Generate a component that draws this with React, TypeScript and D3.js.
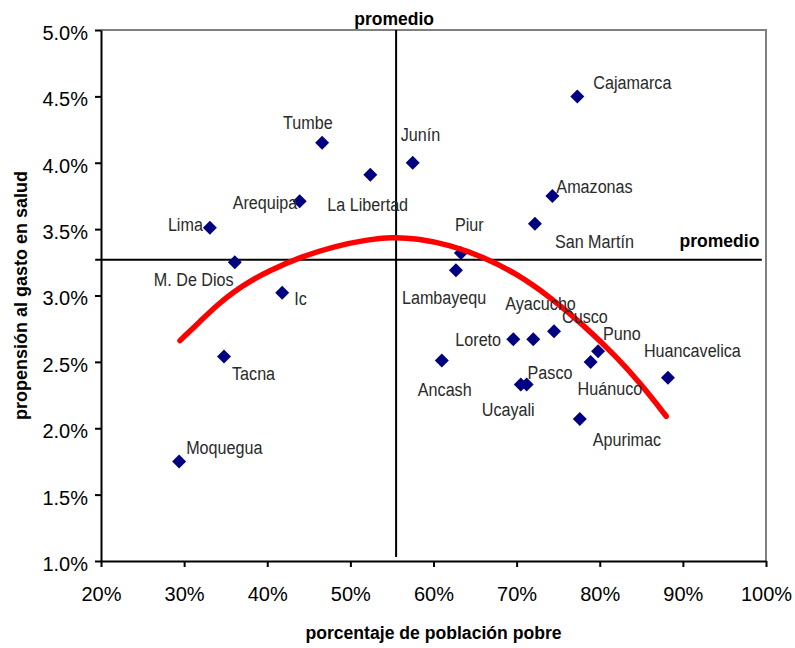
import React, { useRef, useEffect } from 'react';
import * as d3 from 'd3';

// departamentos y sus valores
const departamentos = [
  'Cajamarca', 'Junín', 'Tumbe', 'La Libertad', 'Arequipa', 'Amazonas', 'Lima', 'San Martín',
  'Piur', 'M. De Dios', 'Lambayequ', 'Ic', 'Cusco', 'Ayacucho', 'Loreto', 'Puno', 'Tacna',
  'Ancash', 'Huánuco', 'Huancavelica', 'Pasco', 'Ucayali', 'Apurimac', 'Moquegua',
];
const pobreza = [
  77.3, 57.5, 46.6, 52.4, 43.9, 74.3, 33.1, 72.2,
  63.3, 36.1, 62.7, 41.8, 74.5, 72.0, 69.6, 79.8, 34.8,
  61.0, 78.9, 88.2, 71.2, 70.5, 77.6, 29.4,
];
const gastoSalud = [
  4.5, 4.0, 4.15, 3.91, 3.71, 3.75, 3.51, 3.54,
  3.32, 3.25, 3.19, 3.02, 2.73, 2.67, 2.67, 2.58, 2.54,
  2.51, 2.5, 2.38, 2.33, 2.33, 2.07, 1.75,
];

// curva de tendencia (puntos leídos)
const tendenciaX = [29.5, 32, 34, 36, 38, 40, 44, 48, 52, 55, 58, 62, 66, 70, 74, 78, 82, 85, 88];
const tendenciaY = [2.66, 2.81, 2.93, 3.03, 3.11, 3.18, 3.29, 3.37, 3.42, 3.44, 3.43, 3.38, 3.29, 3.165, 2.99, 2.78, 2.54, 2.33, 2.09];

const promedioPobreza = 55.5;
const promedioGasto = 3.27;

const xTicks = [20, 30, 40, 50, 60, 70, 80, 90, 100];
const yTicks = [1.0, 1.5, 2.0, 2.5, 3.0, 3.5, 4.0, 4.5, 5.0];

// desplazamiento de etiquetas (px) respecto al marcador
const labelOffset: Record<string, [number, number]> = {
  Cajamarca: [16, -7],
  'Junín': [-12, -22],
  Tumbe: [-39, -14],
  'La Libertad': [-43, 36],
  Arequipa: [-67, 8],
  Amazonas: [4, -3],
  Lima: [-42, 3],
  'San Martín': [20, 24],
  Piur: [-6, -22],
  'M. De Dios': [-81, 24],
  Lambayequ: [-54, 34],
  Ic: [12, 12],
  Cusco: [8, -8],
  Ayacucho: [-28, -29],
  Loreto: [-58, 7],
  Puno: [5, -11],
  Tacna: [8, 23],
  Ancash: [-24, 35],
  'Huánuco': [-13, 33],
  Huancavelica: [-24, -21],
  Pasco: [1, -5],
  Ucayali: [-39, 32],
  Apurimac: [13, 27],
  Moquegua: [7, -7],
};

const W = 795;
const H = 648;
const FONT = "'Liberation Sans', Arial, sans-serif";

const App: React.FC = () => {
  const svgRef = useRef<SVGSVGElement | null>(null);

  useEffect(() => {
    const margin = { top: 30, right: 29, bottom: 87, left: 101 };
    const width = W - margin.left - margin.right;
    const height = H - margin.top - margin.bottom;

    d3.select(svgRef.current).selectAll('*').remove();

    const svg = d3
      .select(svgRef.current)
      .append('g')
      .attr('transform', `translate(${margin.left},${margin.top})`);

    const x = d3.scaleLinear().domain([20, 100]).range([0, width]);
    const y = d3.scaleLinear().domain([1, 5]).range([height, 0]);

    // borde gris superior y derecho
    svg
      .append('path')
      .attr('d', `M0,0H${width}V${height}`)
      .attr('fill', 'none')
      .attr('stroke', '#808080')
      .attr('stroke-width', 2);

    const yAxis = svg
      .append('g')
      .call(
        d3
          .axisLeft(y)
          .tickValues(yTicks)
          .tickFormat((d) => `${(+d).toFixed(1)}%`)
          .tickSize(6)
          .tickSizeOuter(0)
          .tickPadding(7)
      );

    const xAxis = svg
      .append('g')
      .attr('transform', `translate(0,${height})`)
      .call(
        d3
          .axisBottom(x)
          .tickValues(xTicks)
          .tickFormat((d) => `${d}%`)
          .tickSize(6)
          .tickSizeOuter(0)
          .tickPadding(20)
      );

    [yAxis, xAxis].forEach((ax) => {
      ax.select('.domain').attr('stroke', '#000').attr('stroke-width', 2);
      ax.selectAll('.tick line').attr('stroke', '#000').attr('stroke-width', 2);
      ax.selectAll('.tick text')
        .attr('fill', '#000')
        .style('font-family', FONT)
        .style('font-size', '20px');
    });
    yAxis.selectAll('.tick text').attr('dy', '0.47em');

    // líneas de promedio
    svg
      .append('line')
      .attr('x1', x(promedioPobreza))
      .attr('x2', x(promedioPobreza))
      .attr('y1', y(5))
      .attr('y2', y(1.03))
      .attr('stroke', '#000')
      .attr('stroke-width', 2);

    svg
      .append('line')
      .attr('x1', x(19.3))
      .attr('x2', x(99.5))
      .attr('y1', y(promedioGasto))
      .attr('y2', y(promedioGasto))
      .attr('stroke', '#000')
      .attr('stroke-width', 2);

    const points = departamentos.map((name, i) => ({
      name,
      px: x(pobreza[i]),
      py: y(gastoSalud[i]),
    }));

    // marcadores rombo
    svg
      .selectAll('.marker')
      .data(points)
      .enter()
      .append('path')
      .attr('transform', (d) => `translate(${d.px},${d.py})`)
      .attr('d', 'M0,-7L7,0L0,7L-7,0Z')
      .attr('fill', '#000080');

    // curva de tendencia
    const trend = tendenciaX.map((v, i) => [v, tendenciaY[i]] as [number, number]);
    svg
      .append('path')
      .datum(trend)
      .attr('fill', 'none')
      .attr('stroke', '#ff0000')
      .attr('stroke-width', 5.5)
      .attr('stroke-linecap', 'round')
      .attr('stroke-linejoin', 'round')
      .attr(
        'd',
        d3
          .line<[number, number]>()
          .curve(d3.curveBasis)
          .x((d) => x(d[0]))
          .y((d) => y(d[1]))
      );

    // etiquetas de departamentos
    svg
      .selectAll('.label')
      .data(points)
      .enter()
      .append('text')
      .attr('transform', (d) => {
        const [dx, dy] = labelOffset[d.name] || [8, -8];
        return `translate(${d.px + dx},${d.py + dy}) scale(0.85,1)`;
      })
      .style('font-family', FONT)
      .style('font-size', '19px')
      .attr('fill', '#2a2a2a')
      .text((d) => d.name);

    // textos "promedio"
    svg
      .append('text')
      .attr('x', x(promedioPobreza) - 2)
      .attr('y', -5)
      .attr('text-anchor', 'middle')
      .style('font-family', FONT)
      .style('font-size', '17.5px')
      .style('font-weight', 'bold')
      .attr('fill', '#000')
      .text('promedio');

    svg
      .append('text')
      .attr('x', x(99.2))
      .attr('y', y(promedioGasto) - 12.5)
      .attr('text-anchor', 'end')
      .style('font-family', FONT)
      .style('font-size', '17.5px')
      .style('font-weight', 'bold')
      .attr('fill', '#000')
      .text('promedio');

    // títulos de ejes
    svg
      .append('text')
      .attr('x', width / 2)
      .attr('y', height + 78)
      .attr('text-anchor', 'middle')
      .style('font-family', FONT)
      .style('font-size', '17.6px')
      .style('font-weight', 'bold')
      .attr('fill', '#000')
      .text('porcentaje de población pobre');

    svg
      .append('text')
      .attr('transform', 'rotate(-90)')
      .attr('x', -height / 2)
      .attr('y', -74)
      .attr('text-anchor', 'middle')
      .style('font-family', FONT)
      .style('font-size', '18px')
      .style('font-weight', 'bold')
      .attr('fill', '#000')
      .text('propensión al gasto en salud');
  }, []);

  return (
    <svg
      ref={svgRef}
      width={W}
      height={H}
      style={{ position: 'absolute', left: 0, top: 0, background: '#fff' }}
    ></svg>
  );
};

export default App;
